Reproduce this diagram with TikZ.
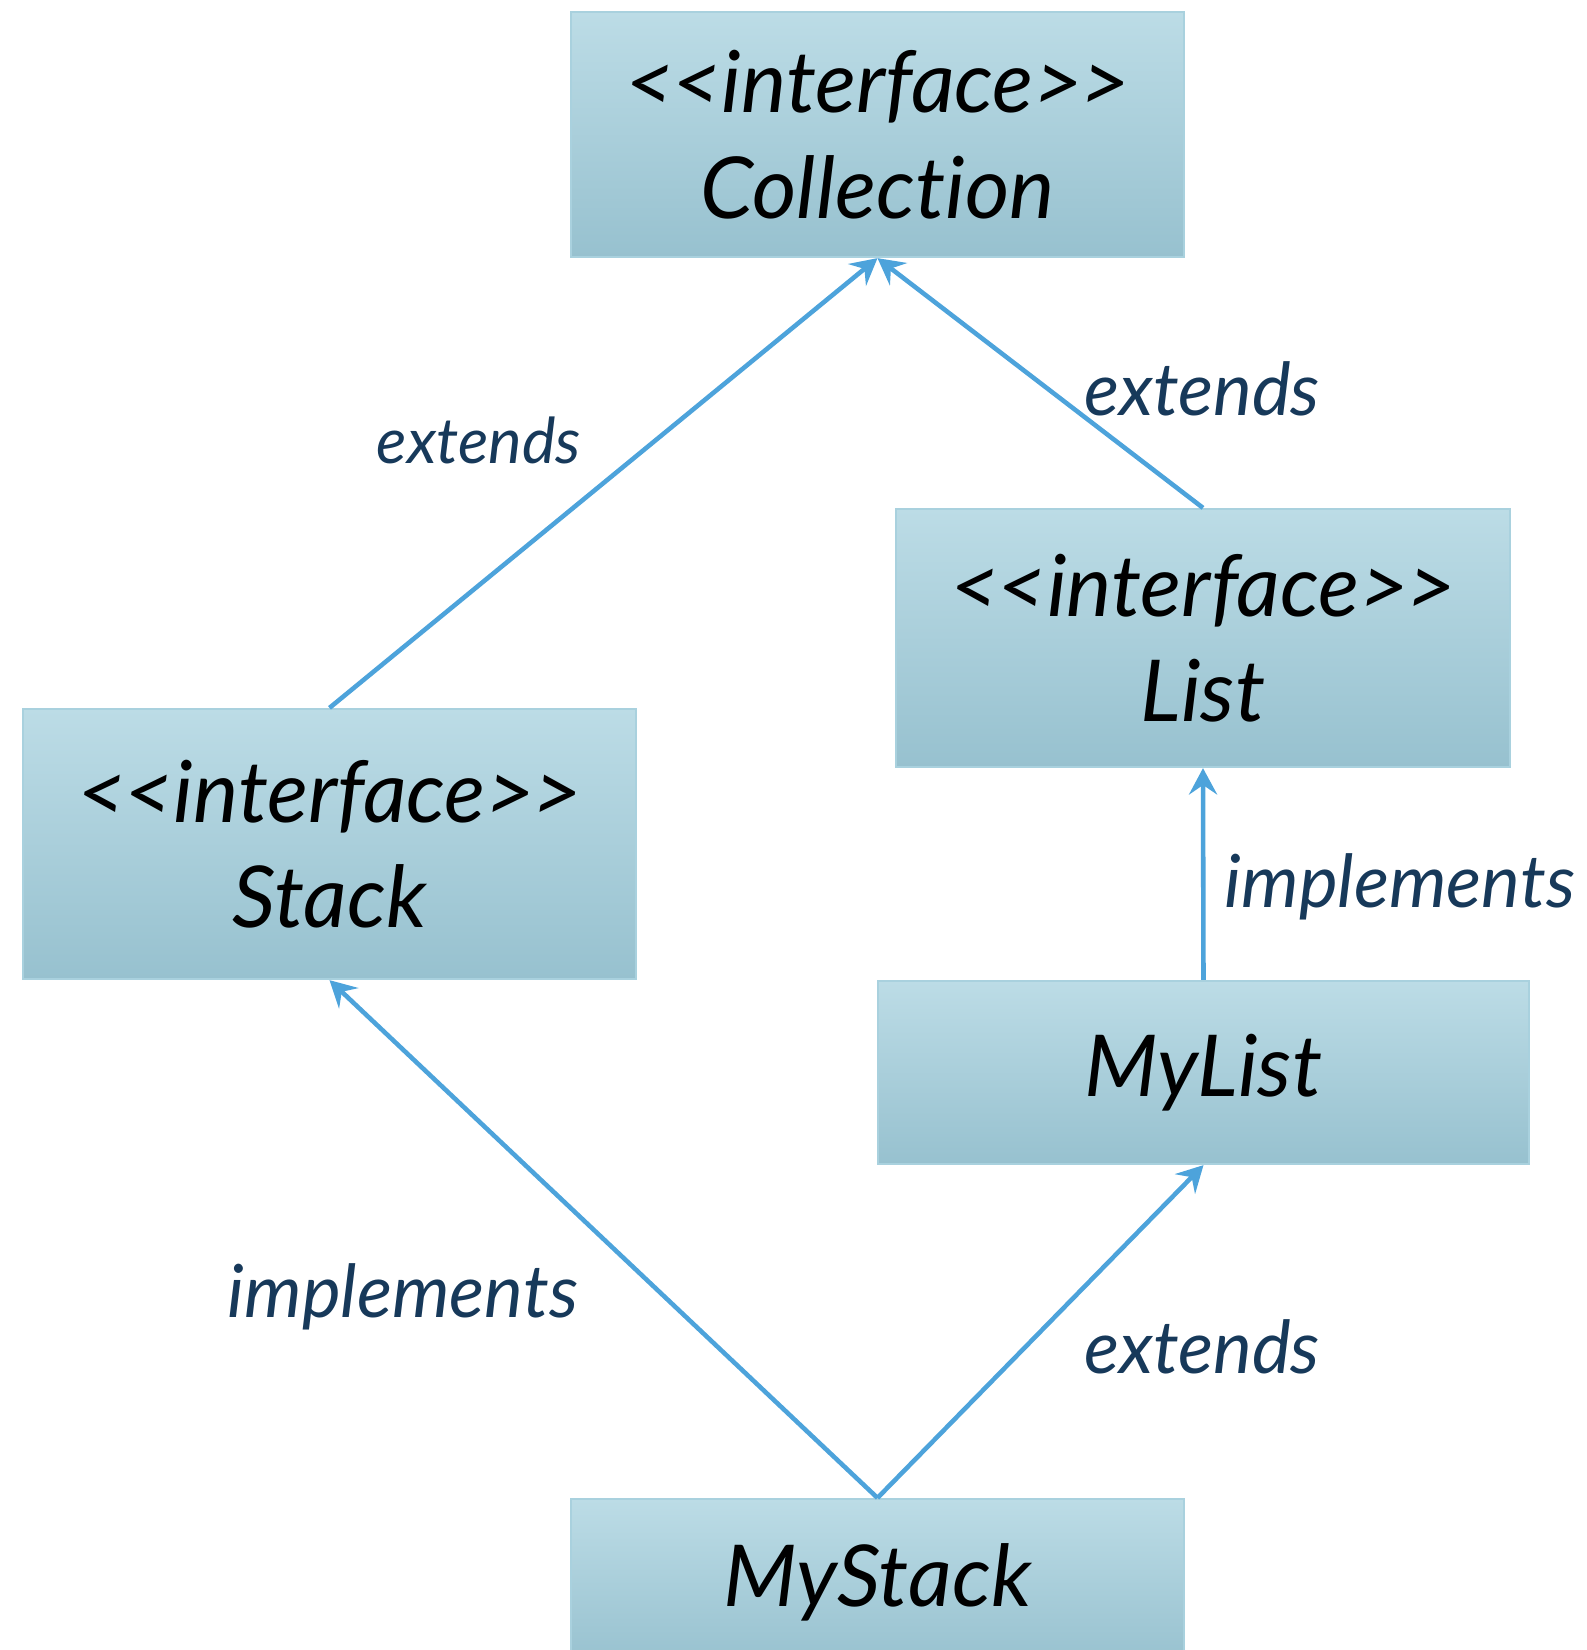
\documentclass[tikz,border=0pt]{standalone}
\usepackage{fontspec}
\setmainfont{Lato}
\newfontfamily\boxfont{Lato}[Ligatures=NoCommon]
\usetikzlibrary{arrows.meta}
\definecolor{boxtop}{HTML}{BCDCE6}
\definecolor{boxbot}{HTML}{97C1CF}
\definecolor{boxline}{HTML}{A9D1DE}
\definecolor{arrowblue}{HTML}{4DA3DB}
\definecolor{labelnavy}{HTML}{17395A}

\begin{document}
\begin{tikzpicture}[x=0.01cm, y=-0.01cm,
    box/.style = {draw=boxline, line width=0.6pt, top color=boxtop, bottom color=boxbot, minimum width=6.13cm, align=center, inner sep=0pt, font=\boxfont\fontsize{24.3}{30}\selectfont\itshape},
    rel/.style = {text=labelnavy, font=\fontsize{20.8}{25}\selectfont\itshape},
    arr/.style = {draw=arrowblue, line width=1.3pt, -{Stealth[length=7.5pt,width=8pt,inset=2.7pt]}}]
            \clip (0,0) rectangle (1587,1650);
            \node[box, minimum height=2.45cm](coll) at (877.5,134.5){<\kern-0.03em<interface>\kern-0.03em>\\Collection};
            \node[box, minimum height=2.7cm](stack) at (329.5,844){<\kern-0.03em<interface>\kern-0.03em>\\Stack};
            \node[box, minimum height=2.58cm](list) at (1203,638){<\kern-0.03em<interface>\kern-0.03em>\\List};
            \node[box, minimum height=1.83cm, minimum width=6.51cm](mylist) at (1203.5,1072.5){MyList};
            \node[box, minimum height=1.66cm](mystack) at (877.5,1582){MyStack};
            \draw[arr] (stack.north) -- (coll.south);
            \draw[arr] (list.north) -- (coll.south);
            \draw[arr] (mylist.north) -- (list.south);
            \draw[arr] (mystack.north) -- (stack.south);
            \draw[arr] (mystack.north) -- (mylist.south);
            \node[rel, font=\fontsize{18}{22}\selectfont\itshape](ext1) at (479,440){extends};
            \node[rel](ext2) at (1202,389){extends};
            \node[rel](impl1) at (1400,887){implements};
            \node[rel](impl2) at (403,1297){implements};
            \node[rel](ext3) at (1202,1347){extends};
        \end{tikzpicture}
\end{document}
